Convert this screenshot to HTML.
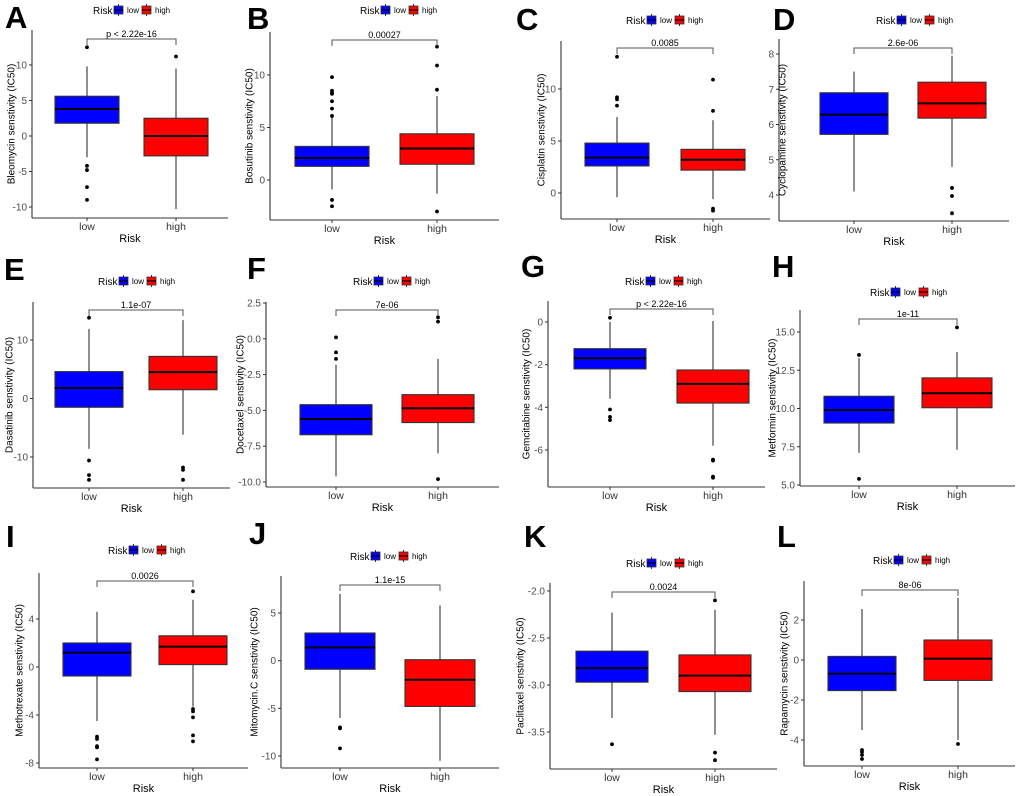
<!DOCTYPE html>
<html><head><meta charset="utf-8">
<style>
html,body{margin:0;padding:0;background:#fff;}
svg{display:block;font-family:"Liberation Sans",Arial,sans-serif;}
</style></head>
<body>
<svg id="fig" width="1020" height="796" viewBox="0 0 1020 796" xmlns="http://www.w3.org/2000/svg"></svg>
<script>
// ---- data ----
const panelLetters = ["A","B","C","D","E","F","G","H","I","J","K","L"];
const drugNames = ["Bleomycin","Bosutinib","Cisplatin","Cyclopamine","Dasatinib","Docetaxel","Gemcitabine","Metformin","Methotrexate","Mitomycin.C","Paclitaxel","Rapamycin"];
const pLabels = ["p < 2.22e-16","0.00027","0.0085","2.6e-06","1.1e-07","7e-06","p < 2.22e-16","1e-11","0.0026","1.1e-15","0.0024","8e-06"];
const categories = ["low","high"];
const yTickLabels = [
  ["10","5","0","-5","-10"],
  ["10","5","0"],
  ["10","5","0"],
  ["8","7","6","5","4"],
  ["10","0","-10"],
  ["2.5","0.0","-2.5","-5.0","-7.5","-10.0"],
  ["0","-2","-4","-6"],
  ["15.0","12.5","10.0","7.5","5.0"],
  ["4","0","-4","-8"],
  ["5","0","-5","-10"],
  ["-2.0","-2.5","-3.0","-3.5"],
  ["2","0","-2","-4"]
];
// [whiskerLow, q1, median, q3, whiskerHigh]
const lowStats = [
  [-3,1.8,3.8,5.6,9.8],[-0.9,1.3,2.1,3.2,6],[-0.4,2.6,3.4,4.8,7.3],[4.1,5.72,6.28,6.9,7.5],
  [-8.6,-1.5,1.8,4.6,11.9],[-9.6,-6.7,-5.6,-4.6,-1.8],[-3.6,-2.2,-1.7,-1.25,0],[7.1,9.05,9.9,10.8,13.3],
  [-4.5,-0.75,1.2,2,4.6],[-6,-0.9,1.4,2.9,7],[-3.35,-2.97,-2.82,-2.64,-2.23],[-3.5,-1.53,-0.68,0.18,2.55]
];
const highStats = [
  [-10.3,-2.8,0,2.5,9.5],[-1.3,1.5,3,4.4,8],[-0.6,2.2,3.2,4.2,7],[4.8,6.18,6.6,7.2,7.95],
  [-6.2,1.5,4.5,7.2,13.4],[-8,-5.85,-4.85,-3.9,-1.4],[-5.8,-3.8,-2.9,-2.25,0.05],[7.3,10.05,11,12,13.7],
  [-3.3,0.2,1.7,2.6,5.6],[-10.5,-4.8,-2,0.1,5.8],[-3.53,-3.07,-2.9,-2.68,-2.2],[-4,-1.02,0.07,1,3.1]
];
const lowOutliers = [
  [12.5,-4.2,-4.8,-7.2,-9],[9.8,8.5,8.3,8.2,7.5,6.8,6.1,-1.9,-2.5],[13.1,9.2,9.0,8.4],[],
  [13.8,-10.6,-13.1,-13.9],[0.1,-0.95,-1.4],[0.2,-4.1,-4.45,-4.6],[13.5,5.4],
  [-5.8,-6,-6.6,-6.7,-7.7],[-7,-7.1,-9.2],[-3.63],[-4.5,-4.6,-4.75,-4.95]
];
const highOutliers = [
  [11.2],[8.6,10.9,12.7,-3],[10.9,7.9,-1.5,-1.7],[4.2,3.97,3.48],
  [-11.8,-12.2,-13.9],[1.5,1.2,-9.8],[-6.45,-6.5,-7.25,-7.3],[15.3],
  [6.3,-3.5,-3.7,-4.2,-5.7,-6.2],[],[-2.1,-3.72,-3.8],[-4.2]
];
// ---- layout (pixels) ----
// ax: y-axis x, top, bottom(x-axis y), right end; t0/t1 pixel y of first/last tick; lowX, highX, half width; bracket y; legend center; letter pos; ylab x
const layout = [
  {ax:32,top:30,bot:218,right:228,t0:65,t1:207,lx:87,hx:176,hw:32,br:39,lgx:130,lgy:10,ltx:5,lty:28,ylx:12},
  {ax:270,top:32,bot:220,right:499,t0:75,t1:180,lx:332,hx:437,hw:37,br:40,lgx:397,lgy:10,ltx:247,lty:29,ylx:250},
  {ax:561,top:41,bot:219,right:770,t0:89,t1:193,lx:617,hx:713,hw:32,br:48,lgx:663,lgy:20,ltx:516,lty:30,ylx:542},
  {ax:779,top:39,bot:221,right:1009,t0:54,t1:195,lx:854,hx:952,hw:34,br:48,lgx:913,lgy:20,ltx:773,lty:30,ylx:783},
  {ax:33,top:302,bot:488,right:230,t0:340,t1:457,lx:89,hx:183,hw:34,br:310,lgx:135,lgy:281,ltx:4,lty:280,ylx:10},
  {ax:266,top:302,bot:487,right:499,t0:303,t1:482,lx:336,hx:438,hw:36,br:310,lgx:390,lgy:281,ltx:247,lty:279,ylx:241},
  {ax:548,top:301,bot:487,right:765,t0:322,t1:450,lx:610,hx:713,hw:36,br:309,lgx:662,lgy:281,ltx:521,lty:277,ylx:527},
  {ax:800,top:310,bot:486,right:1015,t0:332,t1:485,lx:859,hx:957,hw:35,br:319,lgx:907,lgy:292,ltx:772,lty:277,ylx:773},
  {ax:39,top:573,bot:768,right:248,t0:619,t1:763,lx:97,hx:193,hw:34,br:581,lgx:145,lgy:550,ltx:6,lty:547,ylx:20},
  {ax:281,top:576,bot:768,right:499,t0:613,t1:756,lx:340,hx:440,hw:35,br:585,lgx:387,lgy:556,ltx:249,lty:544,ylx:255},
  {ax:550,top:583,bot:769,right:777,t0:591,t1:732,lx:612,hx:715,hw:36,br:592,lgx:663,lgy:563,ltx:524,lty:547,ylx:521},
  {ax:804,top:581,bot:766,right:1015,t0:620,t1:740,lx:862,hx:958,hw:34,br:590,lgx:910,lgy:560,ltx:777,lty:547,ylx:785}
];
const NS="http://www.w3.org/2000/svg";
const svg=document.getElementById('fig');
function mk(tag,attrs,parent){const e=document.createElementNS(NS,tag);for(const k in attrs)e.setAttribute(k,attrs[k]);(parent||svg).appendChild(e);return e;}

for(let i=0;i<12;i++){
  const L=layout[i];
  const g=mk('g',{});
  
  
  const tv=yTickLabels[i].map(Number);
  const v0=tv[0],v1=tv[tv.length-1];
  const y=v=>L.t0+(v-v0)*(L.t1-L.t0)/(v1-v0);
  const xs=[L.lx,L.hx];
  // letter
  const lt=mk('text',{x:L.ltx,y:L.lty,'font-size':31,'font-weight':'bold',fill:'#000'},g);
  lt.textContent=panelLetters[i];
  
  
  // legend
  const lg=mk('g',{},g);
  
  
  let lx0=L.lgx-37;
  const lr=mk('text',{x:lx0,y:L.lgy+4,'font-size':10,fill:'#000'},lg);lr.textContent='Risk';
  
  const keys=[{c:'#0000ff',t:'low',kx:lx0+21,tx:lx0+34},{c:'#ff0000',t:'high',kx:lx0+49,tx:lx0+62}];
  keys.forEach(k=>{
    const kg=mk('g',{},lg);
    
    
    mk('line',{x1:k.kx+4.5,x2:k.kx+4.5,y1:L.lgy-6,y2:L.lgy+6,stroke:'#333','stroke-width':1},kg);
    mk('rect',{x:k.kx,y:L.lgy-4,width:9,height:8,fill:k.c,stroke:'#333','stroke-width':0.8},kg);
    mk('line',{x1:k.kx,x2:k.kx+9,y1:L.lgy,y2:L.lgy,stroke:'#000','stroke-width':1.2},kg);
    const tt=mk('text',{x:k.tx,y:L.lgy+3,'font-size':8,fill:'#000'},kg);tt.textContent=k.t;
  });
  // axes
  const ya=mk('line',{x1:L.ax,x2:L.ax,y1:L.top,y2:L.bot,stroke:'#333','stroke-width':1.1},g);
  
  const xa=mk('line',{x1:L.ax,x2:L.right,y1:L.bot,y2:L.bot,stroke:'#333','stroke-width':1.1},g);
  
  yTickLabels[i].forEach((s,j)=>{
    const yy=y(tv[j]);
    mk('line',{x1:L.ax-3,x2:L.ax,y1:yy,y2:yy,stroke:'#333','stroke-width':1},g);
    const t=mk('text',{x:L.ax-5,y:yy+3.5,'font-size':10,'text-anchor':'end',fill:'#4d4d4d'},g);
    t.textContent=s;
    
  });
  categories.forEach((c,j)=>{
    mk('line',{x1:xs[j],x2:xs[j],y1:L.bot,y2:L.bot+3,stroke:'#333','stroke-width':1},g);
    const t=mk('text',{x:xs[j],y:L.bot+12,'font-size':10.5,'text-anchor':'middle',fill:'#333'},g);
    t.textContent=c;
    
  });
  const xt=mk('text',{x:(L.ax+L.right)/2,y:L.bot+24,'font-size':11,'text-anchor':'middle',fill:'#000'},g);
  xt.textContent='Risk';
  
  const ym=(L.top+L.bot)/2;
  const yt=mk('text',{x:L.ylx,y:ym,'font-size':10,'text-anchor':'middle',fill:'#000',transform:`rotate(-90 ${L.ylx} ${ym})`,'dominant-baseline':'middle'},g);
  yt.textContent=drugNames[i]+' senstivity (IC50)';
  
  // boxes
  [lowStats[i],highStats[i]].forEach((st,j)=>{
    const bg=mk('g',{},g);
    
    
    const cx=xs[j];
    mk('line',{x1:cx,x2:cx,y1:y(st[0]),y2:y(st[4]),stroke:'#333','stroke-width':1.1},bg);
    mk('rect',{x:cx-L.hw,y:y(st[3]),width:2*L.hw,height:y(st[1])-y(st[3]),fill:j?'#ff0000':'#0000ff',stroke:'#333','stroke-width':1.1},bg);
    mk('line',{x1:cx-L.hw,x2:cx+L.hw,y1:y(st[2]),y2:y(st[2]),stroke:'#000','stroke-width':2},bg);
  });
  [lowOutliers[i],highOutliers[i]].forEach((arr,j)=>{
    arr.forEach(v=>{
      const p=mk('circle',{cx:xs[j],cy:y(v),r:1.9,fill:'#000'},g);
      
      
    });
  });
  // bracket
  const bk=mk('path',{d:`M${xs[0]},${L.br+6}V${L.br}H${xs[1]}V${L.br+6}`,fill:'none',stroke:'#555','stroke-width':1},g);
  
  const pt=mk('text',{x:(xs[0]+xs[1])/2,y:L.br-2,'font-size':9,'text-anchor':'middle',fill:'#000'},g);
  pt.textContent=pLabels[i];
  
}
</script>
</body></html>
